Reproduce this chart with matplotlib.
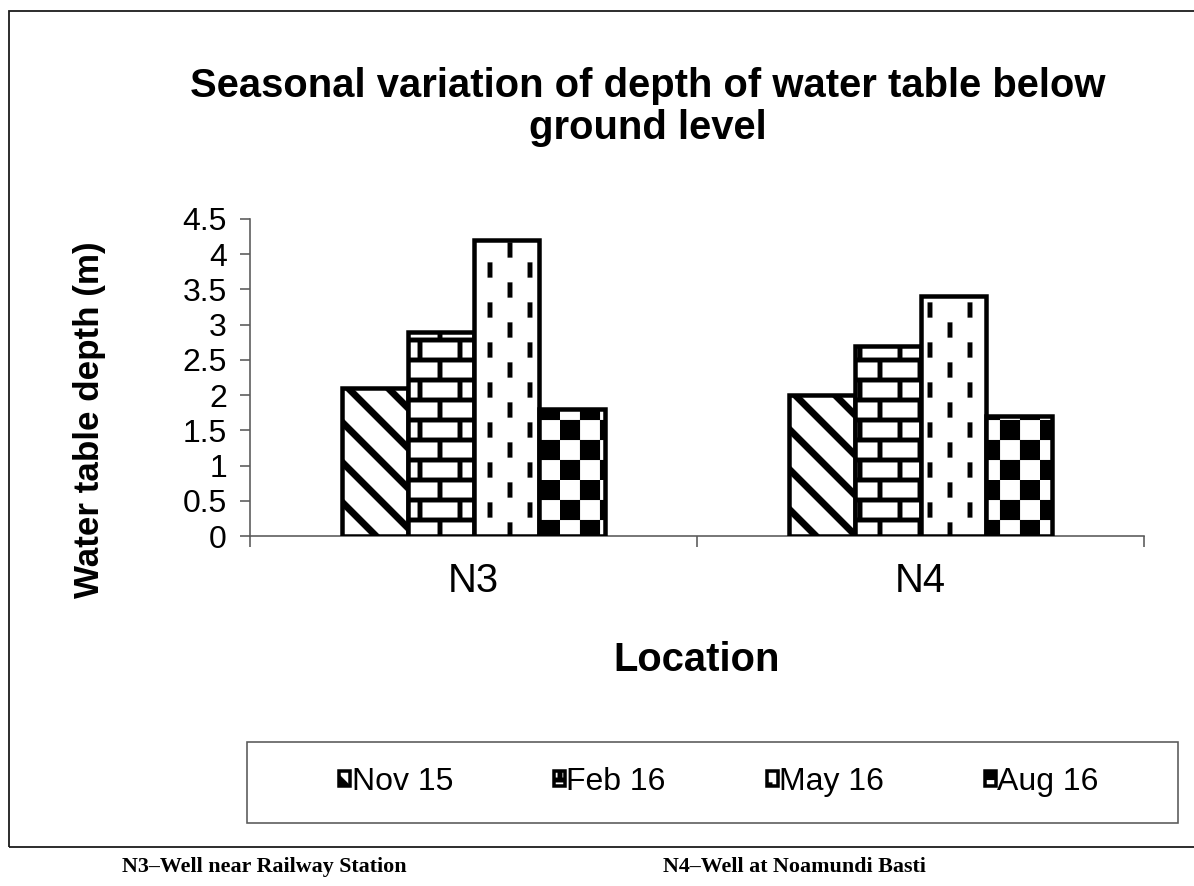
import numpy as np
import matplotlib
matplotlib.use("Agg")
import matplotlib.pyplot as plt
import matplotlib.hatch as mhatch
from matplotlib.path import Path
from matplotlib.patches import Rectangle

# ---------------- data ----------------
locations = ["N3", "N4"]
seasons = ["Nov 15", "Feb 16", "May 16", "Aug 16"]
depth_nov15 = [2.1, 2.0]
depth_feb16 = [2.9, 2.7]
depth_may16 = [4.2, 3.4]
depth_aug16 = [1.8, 1.7]
y_ticks = [0, 0.5, 1, 1.5, 2, 2.5, 3, 3.5, 4, 4.5]
y_tick_labels = ["0", "0.5", "1", "1.5", "2", "2.5", "3", "3.5", "4", "4.5"]
title_text = "Seasonal variation of depth of water table below\nground level"
x_label = "Location"
y_label = "Water table depth (m)"
captions = ["N3\u2013Well near Railway Station", "N4\u2013Well at Noamundi Basti"]

# ---------------- custom fill patterns (Excel-like) ----------------
def _rect(x0, y0, x1, y1):
    return [(x0, y0), (x1, y0), (x1, y1), (x0, y1), (x0, y0)]


def _stripes():
    a = 0.06
    polys = []
    for c in [-0.5, 0.0, 0.5, 1.0, 1.5, 2.0, 2.5]:
        polys.append([(-0.5, 0.5 + c - a), (1.5, -1.5 + c - a),
                      (1.5, -1.5 + c + a), (-0.5, 0.5 + c + a),
                      (-0.5, 0.5 + c - a)])
    return polys


def _bricks():
    t = 0.03
    polys = []
    for y in [0.0, 0.25, 0.5, 0.75, 1.0]:
        polys.append(_rect(-0.1, y - t, 1.1, y + t))
    for k in range(4):
        y0, y1 = k * 0.25 + t, (k + 1) * 0.25 - t
        xs = [0.25, 0.75] if k % 2 == 0 else [0.0, 0.5, 1.0]
        for x in xs:
            polys.append(_rect(x - t, y0, x + t, y1))
    return polys


def _dashes():
    t = 0.03
    h = 0.095
    polys = []
    for j, x in enumerate([0.125, 0.375, 0.625, 0.875]):
        for m in range(-1, 3):
            yc = 0.125 + (j % 2) * 0.25 + m * 0.5
            polys.append(_rect(x - t, yc - h, x + t, yc + h))
    return polys


def _checker():
    polys = []
    for i in range(4):
        for j in range(4):
            if (i + j) % 2 == 0:
                polys.append(_rect(i * 0.25, j * 0.25, (i + 1) * 0.25, (j + 1) * 0.25))
    return polys


def _make_hatch(char, builder):
    class _PolyHatch(mhatch.HatchPatternBase):
        def __init__(self, hatch, density):
            self.polys = builder() if char in hatch else []
            self.num_vertices = sum(len(p) for p in self.polys)

        def set_vertices_and_codes(self, vertices, codes):
            i = 0
            for p in self.polys:
                k = len(p)
                vertices[i:i + k] = p
                codes[i] = Path.MOVETO
                codes[i + 1:i + k - 1] = Path.LINETO
                codes[i + k - 1] = Path.CLOSEPOLY
                i += k
    return _PolyHatch


mhatch._hatch_types = [
    _make_hatch("\\", _stripes),
    _make_hatch("+", _bricks),
    _make_hatch("|", _dashes),
    _make_hatch("x", _checker),
]
series_hatches = ["\\", "+", "|", "x"]

# ---------------- figure ----------------
DPI = 80
W, H = 1194, 886
plt.rcParams["hatch.linewidth"] = 0.1
plt.rcParams["font.family"] = ["Liberation Sans", "DejaVu Sans"]


def fx(x):
    return x / W


def fy(y):
    return 1 - y / H


def pt(px):
    return px * 72.0 / DPI


fig = plt.figure(figsize=(W / DPI, H / DPI), dpi=DPI)
fig.patch.set_facecolor("white")

ax_left, ax_right, ax_top, ax_bottom = 250, 1144, 219, 536
ax = fig.add_axes([fx(ax_left), fy(ax_bottom), (ax_right - ax_left) / W,
                   (ax_bottom - ax_top) / H])

series = [depth_nov15, depth_feb16, depth_may16, depth_aug16]
x = np.arange(len(locations))
bw = 0.1466
offsets = [-1.5, -0.5, 0.5, 1.5]
for vals, off, hatch, lab in zip(series, offsets, series_hatches, seasons):
    ax.bar(x + off * bw, vals, width=bw, color="white", edgecolor="black",
           linewidth=pt(4.5), hatch=hatch, label=lab, zorder=3)

ax.set_xlim(-0.5, len(locations) - 0.5)
ax.set_ylim(0, 4.5)
ax.set_yticks(y_ticks)
ax.set_yticklabels(y_tick_labels)
ax.set_xticks([-0.5, 0.5, 1.5])
ax.set_xticklabels([])
ax.set_xticks(x, minor=True)
ax.set_xticklabels(locations, minor=True)

axis_col = "#595959"
for s in ["top", "right"]:
    ax.spines[s].set_visible(False)
for s in ["left", "bottom"]:
    ax.spines[s].set_color(axis_col)
    ax.spines[s].set_linewidth(pt(1.6))
ax.tick_params(axis="y", direction="out", length=pt(10), width=pt(1.6),
               color=axis_col, labelsize=pt(32), pad=pt(13))
ax.tick_params(axis="x", which="major", direction="out", length=pt(11),
               width=pt(1.6), color=axis_col)
ax.tick_params(axis="x", which="minor", length=0, labelsize=pt(40), pad=pt(26))
ax.set_facecolor("none")

# titles / labels
fig.text(fx(648), fy(107), title_text, ha="center", va="center",
         fontsize=pt(40), fontweight="bold", linespacing=1.12)
fig.text(fx(697), fy(660), x_label, ha="center", va="center",
         fontsize=pt(40), fontweight="bold")
fig.text(fx(90), fy(420), y_label, ha="center", va="center", rotation=90,
         fontsize=pt(35), fontweight="bold")

# outer chart frame
fig.patches.append(Rectangle((fx(9), fy(847)), fx(1300) - fx(9), fy(11) - fy(847),
                             transform=fig.transFigure, fill=False,
                             edgecolor="#1a1a1a", linewidth=pt(1.8)))
# legend frame
fig.patches.append(Rectangle((fx(247), fy(823)), fx(1178) - fx(247), fy(742) - fy(823),
                             transform=fig.transFigure, fill=False,
                             edgecolor=axis_col, linewidth=pt(1.6)))

handles, labels = ax.get_legend_handles_labels()
leg = fig.legend(handles, labels, loc="center", bbox_to_anchor=(fx(719), fy(782)),
                 ncol=4, frameon=False, fontsize=pt(32), handlelength=0.34,
                 handleheight=0.34, handletextpad=0.05, columnspacing=3.15)
for h in leg.legend_handles:
    h.set_linewidth(pt(3.5))

# captions
for cx, txt in zip([264, 794], captions):
    fig.text(fx(cx), fy(867), txt, ha="center", va="center",
             fontsize=pt(22), fontweight="bold",
             family=["Liberation Serif", "DejaVu Serif"])

fig.savefig("out.png", dpi=DPI)
